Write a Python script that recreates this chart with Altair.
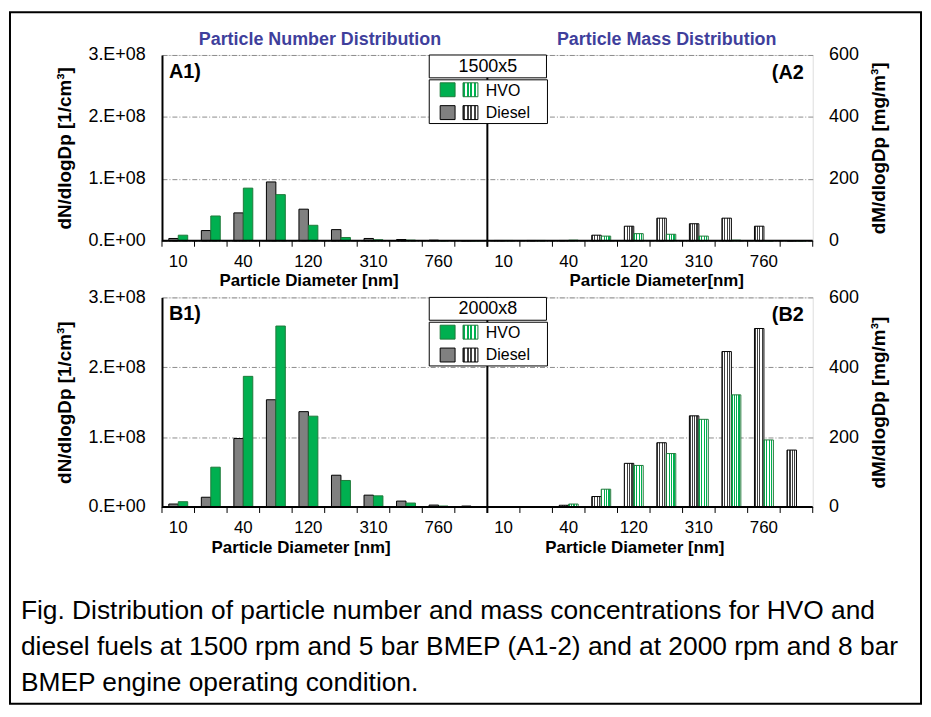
import altair as alt
import pandas as pd

# ---------------- data ----------------
DIAMETER_LABELS = ["10", "", "40", "", "120", "", "310", "", "760", ""]
FUELS = ["Diesel", "HVO"]

# A) 1500 rpm x 5 bar
A1_DIESEL = [3.7e6, 1.65e7, 4.5e7, 9.5e7, 5.1e7, 1.8e7, 3.7e6, 2.0e6, 1.0e6, 0]
A1_HVO = [9.0e6, 4.0e7, 8.5e7, 7.45e7, 2.5e7, 5.3e6, 1.6e6, 1.0e6, 2.0e5, 0]
A2_DIESEL = [1, 1, 1, 18, 47, 73, 55, 73, 47, 0]
A2_HVO = [1, 1, 2, 15, 23, 21, 15, 2, 0, 0]
# B) 2000 rpm x 8 bar
B1_DIESEL = [4.3e6, 1.4e7, 9.8e7, 1.535e8, 1.365e8, 4.55e7, 1.7e7, 8.5e6, 2.8e6, 1.4e6]
B1_HVO = [7.6e6, 5.7e7, 1.87e8, 2.59e8, 1.30e8, 3.8e7, 1.6e7, 5.7e6, 1.4e6, 0]
B2_DIESEL = [0.5, 0.5, 5, 30, 125, 184, 261, 445, 511, 163]
B2_HVO = [0.5, 0.5, 8.5, 51, 119, 153, 251, 321, 192, 0]

N_TICKS = [0, 1e8, 2e8, 3e8]
M_TICKS = [0, 200, 400, 600]

CAPTION_LINES = [
    "Fig. Distribution of particle number and mass concentrations for HVO and",
    "diesel fuels at 1500 rpm and 5 bar BMEP (A1-2) and at 2000 rpm and 8 bar",
    "BMEP engine operating condition.",
]

# ---------------- styling ----------------
FONT = "Liberation Sans"
W = 655
NCAT = len(DIAMETER_LABELS)
POS = list(range(2 * NCAT))
GREEN = "#00b050"
GREEN_EDGE = "#1f7a3a"
GREY = "#808080"
TITLE_BLUE = "#3f3f9c"

ONE = pd.DataFrame({"a": [0]})
TICK_LABELS = pd.DataFrame({"pos": POS, "label": DIAMETER_LABELS * 2})


def hatch(dark, light="#ffffff", n=4, frac=0.5):
    stops = []
    for k in range(n):
        a, b, c = k / n, (k + frac) / n, (k + 1) / n
        stops += [alt.GradientStop(color=dark, offset=a), alt.GradientStop(color=dark, offset=b),
                  alt.GradientStop(color=light, offset=b), alt.GradientStop(color=light, offset=c)]
    return alt.LinearGradient(gradient="linear", stops=stops, x1=0, x2=1, y1=0, y2=0)


HATCH_DIESEL = hatch("#404040")
HATCH_HVO = hatch(GREEN)

X_SCALE = alt.Scale(domain=POS, paddingInner=0, paddingOuter=0)
XOFF = alt.XOffset("fuel:N", scale=alt.Scale(domain=FUELS, paddingInner=0, paddingOuter=0.72))
X_NONE = alt.X("pos:O", scale=X_SCALE, axis=None)


def long_df(nd, nh, md, mh):
    rows = []
    for i in range(NCAT):
        rows.append({"pos": i, "fuel": "Diesel", "panel": "N", "value": nd[i]})
        rows.append({"pos": i, "fuel": "HVO", "panel": "N", "value": nh[i]})
        rows.append({"pos": NCAT + i, "fuel": "Diesel", "panel": "M", "value": md[i]})
        rows.append({"pos": NCAT + i, "fuel": "HVO", "panel": "M", "value": mh[i]})
    return pd.DataFrame(rows)


def txt(t, x, y, size, bold=False, align="left", color="black", font=FONT, baseline="middle", lh=None):
    kw = dict(text=t, align=align, baseline=baseline, fontSize=size,
              fontWeight="bold" if bold else "normal", color=color, font=font)
    if lh:
        kw["lineHeight"] = lh
    return alt.Chart(ONE).mark_text(**kw).encode(x=alt.value(x), y=alt.value(y))


def box(x1, x2, y1, y2, fill="white", stroke="black", sw=1):
    return alt.Chart(ONE).mark_rect(fill=fill, stroke=stroke, strokeWidth=sw).encode(
        x=alt.value(x1), x2=alt.value(x2), y=alt.value(y1), y2=alt.value(y2))


def rule(x1, x2, y1, y2, color="black", sw=1):
    return alt.Chart(ONE).mark_rule(color=color, strokeWidth=sw).encode(
        x=alt.value(x1), x2=alt.value(x2), y=alt.value(y1), y2=alt.value(y2))


def row(df, H, cond, lab_l, lab_r, xt_l, xt_r, xt_lx, xt_rx, top_titles=False, extra=()):
    base = alt.Chart(df)

    left = base.transform_filter(alt.datum.panel == "N").mark_bar(strokeWidth=1).encode(
        x=X_NONE, xOffset=XOFF,
        y=alt.Y("value:Q", scale=alt.Scale(domain=[0, 3e8], nice=False, zero=True),
                axis=alt.Axis(orient="left", values=N_TICKS,
                              labelExpr="datum.value == 0 ? '0.E+00' : format(datum.value/1e8, 'd') + '.E+08'",
                              labelFontSize=18, labelPadding=17, ticks=False, domain=True,
                              domainColor="black", domainWidth=2, grid=True, gridColor="#8c8c8c",
                              gridDash=[5, 2, 1, 2], gridWidth=1, title="dN/dlogDp [1/cm³]",
                              titleFontSize=19, titleFontWeight="bold", titlePadding=14,
                              labelColor="black", titleColor="black", labelFont=FONT, titleFont=FONT)),
        fill=alt.Fill("fuel:N", scale=alt.Scale(domain=FUELS, range=[GREY, GREEN]), legend=None),
        stroke=alt.Stroke("fuel:N", scale=alt.Scale(domain=FUELS, range=["#000000", GREEN_EDGE]), legend=None),
    )
    m_scale = alt.Scale(domain=[0, 600], nice=False, zero=True)
    right_d = base.transform_filter((alt.datum.panel == "M") & (alt.datum.fuel == "Diesel")).mark_bar(
        fill=HATCH_DIESEL, stroke="black", strokeWidth=1).encode(
        x=X_NONE, xOffset=XOFF,
        y=alt.Y("value:Q", scale=m_scale,
                axis=alt.Axis(orient="right", values=M_TICKS, labelFontSize=18, labelPadding=16,
                              ticks=False, domain=False, grid=False, title="dM/dlogDp [mg/m³]",
                              titleAngle=270, titleFontSize=19, titleFontWeight="bold", titlePadding=30,
                              labelColor="black", titleColor="black", labelFont=FONT, titleFont=FONT)),
    )
    right_h = base.transform_filter((alt.datum.panel == "M") & (alt.datum.fuel == "HVO")).mark_bar(
        fill=HATCH_HVO, stroke=GREEN_EDGE, strokeWidth=1).encode(
        x=X_NONE, xOffset=XOFF,
        y=alt.Y("value:Q", scale=m_scale, axis=None),
    )
    ticks = alt.Chart(pd.DataFrame({"pos": POS})).mark_rule(color="black", strokeWidth=1).encode(
        x=alt.X("pos:O", scale=X_SCALE, axis=None, bandPosition=0),
        y=alt.value(H), y2=alt.value(H + 6))
    xlabels = alt.Chart(TICK_LABELS).mark_text(
        fontSize=17, font=FONT, color="black", baseline="middle", align="center").encode(
        x=X_NONE, y=alt.value(H + 21), text="label:N")
    domain_x = rule(0, W, H, H, sw=2)
    end_tick = rule(W, W, H, H + 6)
    center = rule(W / 2, W / 2, 0, H + 6, sw=2)

    legend = [
        box(269, 387, 0, 23),
        txt(cond, 328, 12, 18, align="center"),
        box(269, 388, 25, 69),
        box(280, 295, 28, 42, fill=GREEN, stroke=GREEN_EDGE),
        box(303, 318, 28, 42, fill=HATCH_HVO, stroke=GREEN_EDGE),
        box(280, 295, 51, 65, fill=GREY, stroke="black"),
        box(303, 318, 51, 65, fill=HATCH_DIESEL, stroke="black"),
        txt("HVO", 326, 36, 16),
        txt("Diesel", 326, 58, 16),
    ]
    texts = [
        txt(lab_l, 7, 17, 20, bold=True),
        txt(lab_r, 646, 18, 20, bold=True, align="right"),
        txt(xt_l, xt_lx, H + 41, 17, bold=True, align="center"),
        txt(xt_r, xt_rx, H + 41, 17, bold=True, align="center"),
    ]
    if top_titles:
        texts += [
            txt("Particle Number Distribution", 159, -15, 18, bold=True, align="center", color=TITLE_BLUE),
            txt("Particle Mass Distribution", 508, -15, 18, bold=True, align="center", color=TITLE_BLUE),
        ]
    layers = ([left, right_d, right_h, domain_x, ticks, end_tick, xlabels, center]
              + legend + texts + list(extra))
    return alt.layer(*layers).resolve_scale(y="independent").properties(width=W, height=H)


df_a = long_df(A1_DIESEL, A1_HVO, A2_DIESEL, A2_HVO)
df_b = long_df(B1_DIESEL, B1_HVO, B2_DIESEL, B2_HVO)

top = row(df_a, 187, "1500x5", "A1)", "(A2", "Particle Diameter [nm]", "Particle Diameter[nm]",
          148, 498, top_titles=True)

border = alt.Chart(ONE).mark_rect(fill=None, stroke="black", strokeWidth=2).encode(
    x=alt.value(-153), x2=alt.value(764), y=alt.value(-287), y2=alt.value(409))
caption = txt(CAPTION_LINES, -142, 324, 26.5, baseline="alphabetic", lh=36)

bottom = row(df_b, 211, "2000x8", "B1)", "(B2", "Particle Diameter [nm]", "Particle Diameter [nm]",
             140, 476, extra=(border, caption))

chart = alt.vconcat(top, bottom, spacing=57, bounds="flush").properties(padding=0).configure_view(
    stroke="#555555", strokeWidth=1).configure(font=FONT)

chart.save("out.html", embed_options={"renderer": "svg", "actions": False})
